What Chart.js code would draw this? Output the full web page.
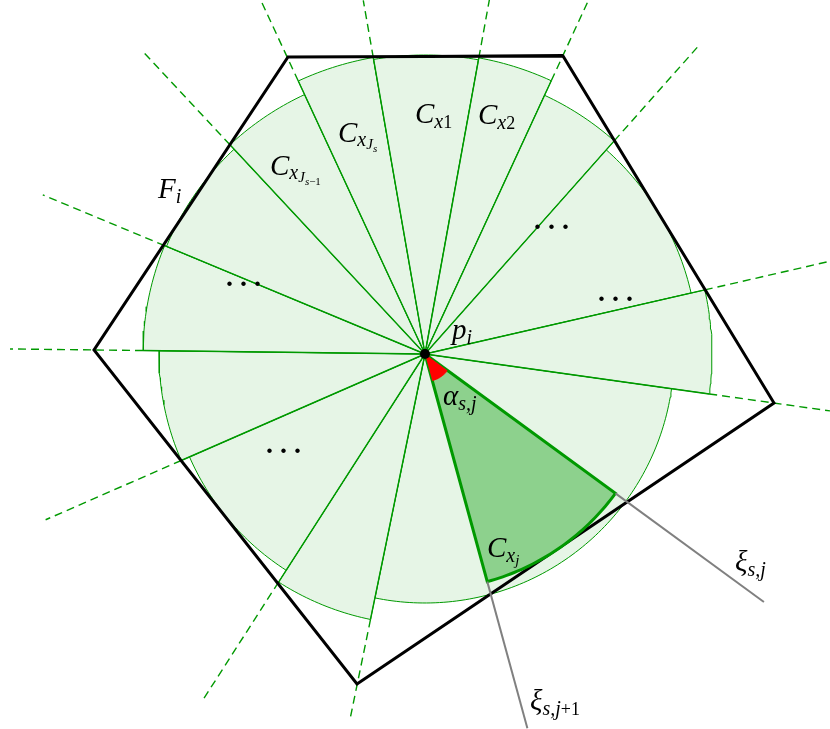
<!DOCTYPE html>
<html>
<head>
<meta charset="utf-8">
<script src="https://cdn.jsdelivr.net/npm/chart.js@4.4.0/dist/chart.umd.min.js"></script>
<style>
  html, body { margin: 0; padding: 0; background: #fff; }
  #wrap { width: 830px; height: 729px; }
</style>
</head>
<body>
<div id="wrap"><canvas id="cone" width="830" height="729"></canvas></div>
<script>
// face F_i, picture units with p_i at the origin (y up)
const faceX = [-137, 138, 349, -68, -331];
const faceY = [297, 298, -49, -330, 4];

// cone boundary directions in degrees (ccw); sector i runs from ray i to ray i+1
const rayAngles = [-8.0, 12.9, 48.4, 65.2, 79.7, 99.9, 114.9, 133.0, 157.4, 179.3, 203.6, 237.3, 258.4];
const sectorRadii = [287, 273, 285, 301, 299, 301, 286, 280, 282, 266, 257, 271, 249];
const rayOuter = [409, 416, 414, 390, 360, 359, 391, 414, 414, 415, 414, 414, 374];

// highlighted cone C_{x_j}, between xi_{s,j+1} and xi_{s,j}
const cellAngles = [-74.7, -36.2];
const cellRadius = 236;
const xiLengths = [388, 420];
const alphaRadius = 28;

const GREEN = '#009900';

function polar(r, deg) {
  const a = deg * Math.PI / 180;
  return { x: r * Math.cos(a), y: r * Math.sin(a) };
}

// wedge outline: centre -> arc -> centre
function sector(a0, a1, r) {
  const pts = [{ x: 0, y: 0 }];
  const steps = Math.max(2, Math.ceil(Math.abs(a1 - a0)));
  for (let k = 0; k <= steps; k++) pts.push(polar(r, a0 + (a1 - a0) * k / steps));
  pts.push({ x: 0, y: 0 });
  return pts;
}

function lineSet(data, color, width, extra) {
  return Object.assign({
    data, showLine: true, fill: false, pointRadius: 0, tension: 0,
    borderColor: color, borderWidth: width, backgroundColor: color,
  }, extra || {});
}

const datasets = [];
const n = rayAngles.length;

// light sectors
rayAngles.forEach((a, i) => {
  const a1 = i < n - 1 ? rayAngles[i + 1] : rayAngles[0] + 360;
  datasets.push(lineSet(sector(a, a1, sectorRadii[i]), GREEN, 1,
    { fill: 'shape', backgroundColor: '#e6f5e6', order: 90 }));
});

// rays: solid up to the larger neighbouring sector, dashed beyond
rayAngles.forEach((a, i) => {
  const solid = Math.max(sectorRadii[i], sectorRadii[(i + n - 1) % n]);
  datasets.push(lineSet([polar(0, a), polar(solid, a)], GREEN, 1.4, { order: 80 }));
  datasets.push(lineSet([polar(solid, a), polar(rayOuter[i], a)], GREEN, 1.4,
    { borderDash: [8, 5], order: 80 }));
});

// face polygon
const faceData = faceX.map((x, i) => ({ x, y: faceY[i] }));
faceData.push(faceData[0], faceData[1]);
datasets.push(lineSet(faceData, '#000', 3, { order: 70, borderJoinStyle: 'miter' }));

// C_{x_j}
datasets.push(lineSet(sector(cellAngles[0], cellAngles[1], cellRadius), GREEN, 3,
  { fill: 'shape', backgroundColor: '#8dd18d', order: 60 }));

// xi_{s,j+1}, xi_{s,j}
cellAngles.forEach((a, i) => {
  datasets.push(lineSet([polar(cellRadius, a), polar(xiLengths[i], a)], '#808080', 2, { order: 55 }));
});

// alpha_{s,j}
datasets.push(lineSet(sector(cellAngles[0], cellAngles[1], alphaRadius), 'rgba(0,0,0,0)', 0.01,
  { fill: 'shape', backgroundColor: '#ff0000', order: 50 }));

// p_i
datasets.push({ data: [{ x: 0, y: 0 }], pointRadius: 5, backgroundColor: '#000', borderWidth: 0, order: 40 });

const SERIF = "'Liberation Serif', 'DejaVu Serif', serif";
// runs: [text, size, baseline shift, italic]
const labels = [
  { at: [-10, 231], runs: [['C', 29, 0, 1], ['x', 20, 5, 1], ['1', 18, 5, 0]] },
  { at: [53, 230], runs: [['C', 29, 0, 1], ['x', 20, 5, 1], ['2', 18, 5, 0]] },
  { at: [-87, 212], runs: [['C', 29, 0, 1], ['x', 20, 4, 1], ['J', 15, 7, 1], ['s', 11, 10, 1]] },
  { at: [-155, 179], runs: [['C', 29, 0, 1], ['x', 20, 4, 1], ['J', 15, 7, 1], ['s', 11, 10, 1], ['\u22121', 11, 10, 0]] },
  { at: [-267, 156], runs: [['F', 29, 0, 1], ['i', 20, 5, 1]] },
  { at: [27, 15], runs: [['p', 29, 0, 1], ['i', 20, 5, 1]] },
  { at: [18, -51], runs: [['\u03b1', 29, 0, 1], ['s,j', 20, 5, 1]] },
  { at: [62, -203], runs: [['C', 29, 0, 1], ['x', 20, 5, 1], ['j', 15, 8, 1]] },
  { at: [310, -217], runs: [['\u03be', 29, 0, 1], ['s,j', 20, 5, 1]] },
  { at: [105, -356], runs: [['\u03be', 29, 0, 1], ['s,j', 20, 5, 1], ['+1', 18, 5, 0]] },
  { at: [-199, 68], runs: [['. . .', 28, 0, 0]] },
  { at: [109, 125], runs: [['. . .', 28, 0, 0]] },
  { at: [173, 53], runs: [['. . .', 28, 0, 0]] },
  { at: [-159, -99], runs: [['. . .', 28, 0, 0]] },
];

const labelPlugin = {
  id: 'labels',
  afterDatasetsDraw(chart) {
    const { ctx, scales } = chart;
    ctx.save();
    ctx.fillStyle = '#000';
    ctx.textBaseline = 'alphabetic';
    labels.forEach(l => {
      let x = scales.x.getPixelForValue(l.at[0]);
      const y = scales.y.getPixelForValue(l.at[1]);
      l.runs.forEach(([t, size, dy, it]) => {
        const dots = t.indexOf('.') === 0;
        ctx.font = (it ? 'italic ' : '') + (dots ? 'bold ' : '') + size + 'px ' + SERIF;
        ctx.fillText(t, x, y + dy);
        x += ctx.measureText(t).width;
      });
    });
    ctx.restore();
  }
};

new Chart(document.getElementById('cone'), {
  type: 'scatter',
  data: { datasets },
  options: {
    responsive: false,
    animation: false,
    events: [],
    layout: { padding: 0, autoPadding: false },
    plugins: { legend: { display: false }, tooltip: { enabled: false } },
    scales: {
      x: { type: 'linear', min: -425, max: 405, display: false },
      y: { type: 'linear', min: -375, max: 354, display: false },
    },
  },
  plugins: [labelPlugin],
});
</script>
</body>
</html>
